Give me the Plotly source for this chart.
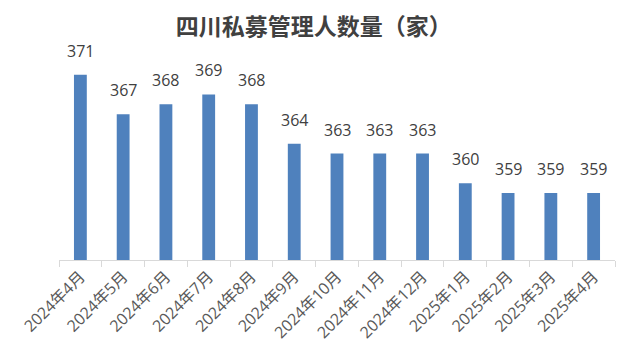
import plotly.graph_objects as go

categories = ["2024年4月", "2024年5月", "2024年6月", "2024年7月", "2024年8月", "2024年9月",
              "2024年10月", "2024年11月", "2024年12月", "2025年1月", "2025年2月", "2025年3月", "2025年4月"]
values = [371, 367, 368, 369, 368, 364, 363, 363, 363, 360, 359, 359, 359]
title_text = "四川私募管理人数量（家）"

FONT = "Open Sans, Noto Sans CJK SC"
CJK = "Noto Sans CJK SC"

fig = go.Figure()
fig.add_trace(go.Bar(x=categories, y=values, marker=dict(color="#4F81BD", line=dict(width=0)),
                     hoverinfo="x+y"))

for c, v in zip(categories, values):
    fig.add_annotation(x=c, y=v, text=str(v), showarrow=False, yanchor="bottom", yshift=11,
                       font=dict(family=FONT, size=16, color="#404040"))

fig.update_layout(
    width=634, height=360,
    margin=dict(l=59, r=19, t=60, b=100),
    paper_bgcolor="white", plot_bgcolor="white",
    bargap=0.7,
    showlegend=False,
    title=dict(text="<b>" + title_text + "</b>", x=0.495, xanchor="center", y=0.925, yanchor="middle",
               font=dict(family=CJK, size=23, color="#404040")),
    xaxis=dict(type="category", showline=True, linecolor="#D9D9D9", linewidth=1,
               ticks="outside", tickson="boundaries", ticklen=6, tickcolor="#D9D9D9",
               tickangle=-45, tickfont=dict(family=FONT, size=16, color="#595959"),
               showgrid=False, automargin=False),
    yaxis=dict(range=[352.2, 372.5], visible=False, showgrid=False, zeroline=False),
)

fig.write_html("out.html", config={"displayModeBar": False},
               post_script="document.body.style.margin='0px';")
